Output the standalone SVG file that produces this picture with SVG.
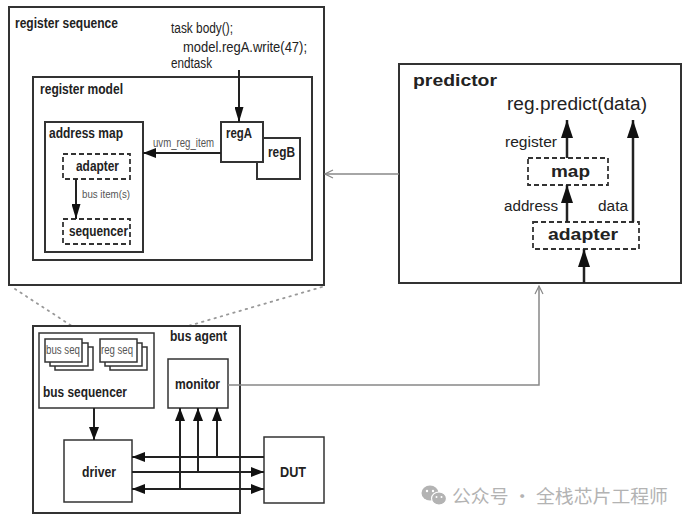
<svg xmlns="http://www.w3.org/2000/svg" width="692" height="523" viewBox="0 0 692 523">
<defs>
<style>
.box{fill:#fff;stroke:#333;stroke-width:2}
.thin{fill:#fff;stroke:#333;stroke-width:1.5}
.dash{fill:#fff;stroke:#333;stroke-width:1.8;stroke-dasharray:5 3}
.b{font-family:"Liberation Sans",Arial,sans-serif;font-weight:bold;fill:#222}
.r{font-family:"Liberation Sans",Arial,sans-serif;fill:#222}
.g{font-family:"Liberation Sans",Arial,sans-serif;fill:#555}
.ln{fill:none;stroke:#222;stroke-width:2}
.lp{fill:none;stroke:#222;stroke-width:2.5}
.gl{fill:none;stroke:#888;stroke-width:1.5}
.dot{fill:none;stroke:#999;stroke-width:1.8;stroke-dasharray:1.5 5;stroke-linecap:round}
.wm{font-family:"Noto Sans CJK SC","Noto Sans",sans-serif;fill:#b3b3b3}
</style>
<marker id="ah" markerUnits="userSpaceOnUse" markerWidth="13" markerHeight="10" refX="13" refY="5" orient="auto-start-reverse">
<path d="M0,0 L13,5 L0,10 z" fill="#111"/>
</marker>
<marker id="as" markerUnits="userSpaceOnUse" markerWidth="15" markerHeight="9" refX="15" refY="4.5" orient="auto">
<path d="M0,0 L15,4.5 L0,9 z" fill="#111"/>
</marker>
<marker id="ab" markerUnits="userSpaceOnUse" markerWidth="18" markerHeight="12" refX="18" refY="6" orient="auto">
<path d="M0,0 L18,6 L0,12 z" fill="#111"/>
</marker>
<marker id="oh" markerUnits="userSpaceOnUse" markerWidth="10" markerHeight="10" refX="9" refY="5" orient="auto">
<path d="M1,1 L9,5 L1,9" fill="none" stroke="#888" stroke-width="1.2"/>
</marker>
</defs>
<rect width="692" height="523" fill="#fff"/>

<g id="zoom-lines">
<line class="dot" x1="15" y1="289" x2="95" y2="341"/>
<line class="dot" x1="322" y1="287" x2="140" y2="340"/>
</g>

<g id="register-sequence">
<rect class="box" x="9" y="7" width="315" height="278"/>
<text class="b" x="15" y="28" font-size="15" textLength="103" lengthAdjust="spacingAndGlyphs">register sequence</text>
<text class="r" x="171" y="33" font-size="14" textLength="62" lengthAdjust="spacingAndGlyphs">task body();</text>
<text class="r" x="183" y="52" font-size="14" textLength="124" lengthAdjust="spacingAndGlyphs">model.regA.write(47);</text>
<text class="r" x="171" y="68" font-size="14" textLength="41" lengthAdjust="spacingAndGlyphs">endtask</text>
</g>

<g id="register-model">
<rect class="box" x="33" y="77" width="279" height="183"/>
<text class="b" x="40" y="94" font-size="15" textLength="83" lengthAdjust="spacingAndGlyphs">register model</text>
</g>

<g id="address-map">
<rect class="box" x="45" y="122" width="98" height="130"/>
<text class="b" x="49" y="138" font-size="15" textLength="74" lengthAdjust="spacingAndGlyphs">address map</text>
</g>

<g id="adapter-rm">
<rect class="dash" x="63" y="154" width="67" height="25"/>
<text class="b" x="76" y="171" font-size="15" textLength="43" lengthAdjust="spacingAndGlyphs">adapter</text>
</g>

<g id="sequencer-rm">
<rect class="dash" x="63" y="219" width="67" height="25"/>
<text class="b" x="69" y="236" font-size="15" textLength="59" lengthAdjust="spacingAndGlyphs">sequencer</text>
</g>

<g id="regB">
<rect class="box" x="257" y="138" width="43" height="41"/>
<text class="b" x="268" y="157" font-size="15" textLength="27" lengthAdjust="spacingAndGlyphs">regB</text>
</g>

<g id="regA">
<rect class="box" x="221" y="122" width="42" height="40"/>
<text class="b" x="226" y="138" font-size="15" textLength="26" lengthAdjust="spacingAndGlyphs">regA</text>
</g>

<g id="predictor">
<rect class="box" x="399" y="64" width="282" height="219"/>
<text class="b" x="413" y="86" font-size="17" textLength="84" lengthAdjust="spacingAndGlyphs">predictor</text>
<text class="r" x="507" y="110" font-size="18" textLength="140" lengthAdjust="spacingAndGlyphs">reg.predict(data)</text>
</g>

<g id="map-pred">
<rect class="dash" x="528" y="158" width="80" height="27"/>
<text class="b" x="551" y="177" font-size="17" textLength="39" lengthAdjust="spacingAndGlyphs">map</text>
</g>

<g id="adapter-pred">
<rect class="dash" x="533" y="222" width="106" height="27"/>
<text class="b" x="548" y="240" font-size="17" textLength="70" lengthAdjust="spacingAndGlyphs">adapter</text>
</g>

<g id="bus-agent">
<rect class="box" x="33" y="326" width="207" height="187"/>
<text class="b" x="170" y="341" font-size="15" textLength="57" lengthAdjust="spacingAndGlyphs">bus agent</text>
</g>

<g id="bus-sequencer">
<rect class="thin" x="39" y="333" width="115" height="75"/>
<rect class="thin" x="55" y="347" width="38" height="23"/>
<rect class="thin" x="50" y="343" width="38" height="23"/>
<rect class="thin" x="45" y="339" width="37" height="23"/>
<text class="g" x="46" y="354" font-size="12" textLength="34" lengthAdjust="spacingAndGlyphs">bus seq</text>
<rect class="thin" x="110" y="347" width="37" height="23"/>
<rect class="thin" x="105" y="343" width="37" height="23"/>
<rect class="thin" x="100" y="339" width="37" height="23"/>
<text class="g" x="101" y="354" font-size="12" textLength="32" lengthAdjust="spacingAndGlyphs">reg seq</text>
<text class="b" x="43" y="397" font-size="15" textLength="84" lengthAdjust="spacingAndGlyphs">bus sequencer</text>
</g>

<g id="monitor">
<rect class="thin" x="168" y="359" width="60" height="49"/>
<text class="b" x="175" y="389" font-size="15" textLength="45" lengthAdjust="spacingAndGlyphs">monitor</text>
</g>

<g id="driver">
<rect class="thin" x="64" y="440" width="68" height="62"/>
<text class="b" x="82" y="477" font-size="15" textLength="34" lengthAdjust="spacingAndGlyphs">driver</text>
</g>

<g id="DUT">
<rect class="thin" x="264" y="437" width="60" height="66"/>
<text class="b" x="280" y="477" font-size="15" textLength="26" lengthAdjust="spacingAndGlyphs">DUT</text>
</g>

<g id="connectors">
<line class="ln" x1="239" y1="70" x2="239" y2="122" marker-end="url(#as)"/>
<line class="ln" x1="221" y1="153" x2="143" y2="153" marker-end="url(#ah)"/>
<text class="g" x="153" y="147" font-size="12" textLength="61" lengthAdjust="spacingAndGlyphs">uvm_reg_item</text>
<line class="ln" x1="76" y1="179" x2="76" y2="219" marker-end="url(#as)"/>
<text class="g" x="82" y="198" font-size="11.5" textLength="48" lengthAdjust="spacingAndGlyphs">bus item(s)</text>

<line class="lp" x1="567" y1="158" x2="567" y2="120" marker-end="url(#ab)"/>
<line class="lp" x1="567" y1="222" x2="567" y2="185" marker-end="url(#ab)"/>
<line class="lp" x1="633" y1="222" x2="633" y2="120" marker-end="url(#ab)"/>
<line class="lp" x1="584" y1="283" x2="584" y2="249" marker-end="url(#ab)"/>
<text class="r" x="505" y="147" font-size="14" textLength="52" lengthAdjust="spacingAndGlyphs">register</text>
<text class="r" x="504" y="211" font-size="14" textLength="54" lengthAdjust="spacingAndGlyphs">address</text>
<text class="r" x="598" y="211" font-size="14" textLength="30" lengthAdjust="spacingAndGlyphs">data</text>

<line class="gl" x1="399" y1="174" x2="325" y2="174" marker-end="url(#oh)"/>
<polyline class="gl" points="228,385 539,385 539,286" marker-end="url(#oh)"/>

<line class="ln" x1="94" y1="408" x2="94" y2="440" marker-end="url(#ah)"/>
<line class="ln" x1="264" y1="457" x2="132" y2="457" marker-end="url(#ah)"/>
<line class="ln" x1="132" y1="472" x2="264" y2="472" marker-end="url(#ah)"/>
<line class="ln" x1="132" y1="489" x2="264" y2="489" marker-start="url(#ah)" marker-end="url(#ah)"/>
<line class="ln" x1="180" y1="489" x2="180" y2="408" marker-end="url(#ah)"/>
<line class="ln" x1="198" y1="472" x2="198" y2="408" marker-end="url(#ah)"/>
<line class="ln" x1="217" y1="457" x2="217" y2="408" marker-end="url(#ah)"/>
</g>

<g id="watermark">
<ellipse cx="430" cy="493" rx="8.5" ry="7.5" fill="#b3b3b3"/>
<ellipse cx="439" cy="498.5" rx="7.5" ry="6.5" fill="#b3b3b3" stroke="#fff" stroke-width="1.2"/>
<circle cx="427" cy="491" r="1.2" fill="#fff"/>
<circle cx="433" cy="491" r="1.2" fill="#fff"/>
<circle cx="436.5" cy="497" r="1" fill="#fff"/>
<circle cx="441.5" cy="497" r="1" fill="#fff"/>
<text class="wm" x="452" y="503" font-size="18" textLength="216" lengthAdjust="spacingAndGlyphs">公众号 · 全栈芯片工程师</text>
</g>
</svg>
